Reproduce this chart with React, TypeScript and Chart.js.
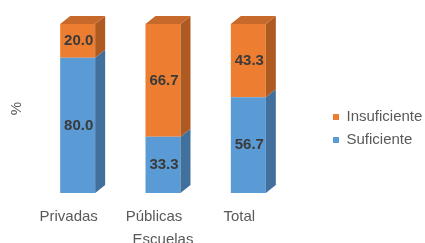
import React, { useEffect, useRef } from 'react';
import { Chart, registerables } from 'chart.js';

Chart.register(...registerables);

const categories = ['Privadas', 'Públicas', 'Total'];
const seriesNames = ['Suficiente', 'Insuficiente'];
const suficiente = [80.0, 33.3, 56.7];
const insuficiente = [20.0, 66.7, 43.3];
const xAxisTitle = 'Escuelas';
const yAxisTitle = '%';

const frontColors = ['#5B9BD5', '#ED7D31'];
const sideColors = ['#41709C', '#AE5A21'];
const topColors = ['#4A80B0', '#C7692A'];

const FONT = "'Liberation Sans', Arial, Helvetica, sans-serif";
const TEXT = '#595959';
const DEPTH_X = 10;
const DEPTH_Y = 8;

const bar3d = {
  id: 'bar3d',
  afterDatasetsDraw(chart: any) {
    const ctx = chart.ctx;
    const n = chart.data.datasets.length;
    ctx.save();
    chart.data.datasets.forEach((ds: any, di: number) => {
      const meta = chart.getDatasetMeta(di);
      if (meta.hidden) return;
      meta.data.forEach((el: any) => {
        const { x, y, base, width } = el.getProps(['x', 'y', 'base', 'width'], true);
        const l = x - width / 2;
        const r = x + width / 2;
        ctx.fillStyle = sideColors[di];
        ctx.beginPath();
        ctx.moveTo(r, y);
        ctx.lineTo(r + DEPTH_X, y - DEPTH_Y);
        ctx.lineTo(r + DEPTH_X, base - DEPTH_Y);
        ctx.lineTo(r, base);
        ctx.closePath();
        ctx.fill();
        if (di === n - 1) {
          ctx.fillStyle = topColors[di];
          ctx.beginPath();
          ctx.moveTo(l, y);
          ctx.lineTo(r, y);
          ctx.lineTo(r + DEPTH_X, y - DEPTH_Y);
          ctx.lineTo(l + DEPTH_X, y - DEPTH_Y);
          ctx.closePath();
          ctx.fill();
        }
      });
    });
    ctx.font = `bold 15px ${FONT}`;
    ctx.fillStyle = '#3A3A3A';
    ctx.textAlign = 'center';
    ctx.textBaseline = 'middle';
    chart.data.datasets.forEach((ds: any, di: number) => {
      const meta = chart.getDatasetMeta(di);
      if (meta.hidden) return;
      meta.data.forEach((el: any, i: number) => {
        const { x, y, base } = el.getProps(['x', 'y', 'base'], true);
        ctx.fillText(Number(ds.data[i]).toFixed(1), x + 1, (y + base) / 2);
      });
    });
    ctx.restore();
  },
};

export default function App() {
  const canvasRef = useRef<HTMLCanvasElement | null>(null);

  useEffect(() => {
    if (!canvasRef.current) return;
    const font = { family: FONT, size: 15 };
    const chart = new Chart(canvasRef.current, {
      type: 'bar',
      data: {
        labels: categories,
        datasets: [
          {
            label: seriesNames[0],
            data: suficiente,
            backgroundColor: frontColors[0],
            borderWidth: 0,
            barPercentage: 0.41,
            categoryPercentage: 1,
          },
          {
            label: seriesNames[1],
            data: insuficiente,
            backgroundColor: frontColors[1],
            borderWidth: 0,
            barPercentage: 0.41,
            categoryPercentage: 1,
          },
        ],
      },
      options: {
        responsive: true,
        maintainAspectRatio: false,
        animation: false,
        layout: { padding: { top: 8, right: 0, bottom: 0, left: 0 } },
        plugins: {
          legend: {
            position: 'right',
            reverse: true,
            maxWidth: 100,
            labels: {
              boxWidth: 6,
              boxHeight: 6,
              padding: 8,
              color: TEXT,
              font,
            },
          },
          tooltip: { enabled: false },
        },
        scales: {
          x: {
            stacked: true,
            grid: { display: false, drawTicks: false },
            border: { display: false },
            ticks: {
              color: TEXT,
              font,
              padding: 15,
              labelOffset: -9,
              maxRotation: 0,
              autoSkip: false,
            },
            title: {
              display: true,
              text: xAxisTitle,
              color: TEXT,
              font,
              padding: { top: 3, bottom: 0 },
            },
            afterFit: (s: any) => {
              s.height = 56;
            },
          },
          y: {
            stacked: true,
            min: 0,
            max: 100,
            grid: { display: false, drawTicks: false },
            border: { display: false },
            ticks: { display: false },
            title: {
              display: true,
              text: yAxisTitle,
              color: TEXT,
              font,
              padding: { top: 8, bottom: 0 },
            },
            afterFit: (s: any) => {
              s.width = 35;
            },
          },
          padTop: {
            axis: 'x',
            type: 'linear',
            position: 'top',
            display: true,
            grid: { display: false, drawTicks: false },
            border: { display: false },
            ticks: { display: false },
            afterFit: (s: any) => {
              s.height = 16;
            },
          },
          padRight: {
            axis: 'y',
            type: 'linear',
            position: 'right',
            display: true,
            grid: { display: false, drawTicks: false },
            border: { display: false },
            ticks: { display: false },
            afterFit: (s: any) => {
              s.width = 34;
            },
          },
        } as any,
      },
      plugins: [bar3d],
    });
    return () => chart.destroy();
  }, []);

  return (
    <div
      style={{
        position: 'fixed',
        left: 0,
        top: 0,
        width: 425,
        height: 243,
        overflow: 'hidden',
        background: '#ffffff',
      }}
    >
      <div style={{ position: 'relative', width: 425, height: 249 }}>
        <canvas ref={canvasRef} />
      </div>
    </div>
  );
}
